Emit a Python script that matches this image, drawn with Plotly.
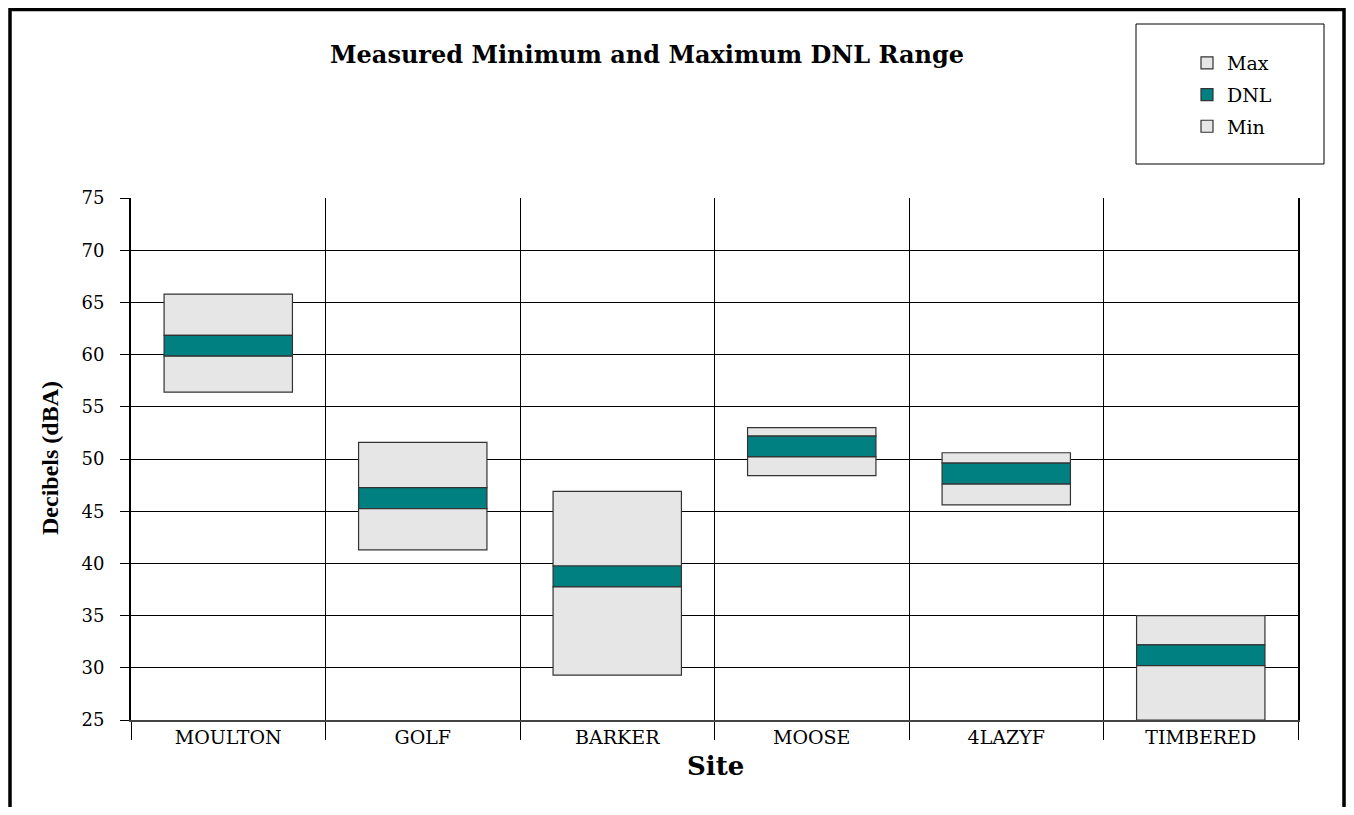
import plotly.graph_objects as go

# ---- data ----
sites = ["MOULTON", "GOLF", "BARKER", "MOOSE", "4LAZYF", "TIMBERED"]
min_db = [56.4, 41.3, 29.3, 48.4, 45.6, 25.0]
dnl_db = [60.85, 46.25, 38.75, 51.2, 48.6, 31.2]
max_db = [65.8, 51.6, 46.9, 53.0, 50.6, 35.0]
dnl_half_band = 1.0  # DNL drawn as a +/- 1 dB band

y_ticks = [25, 30, 35, 40, 45, 50, 55, 60, 65, 70, 75]

# ---- derived segments ----
dnl_lo = [d - dnl_half_band for d in dnl_db]
dnl_hi = [d + dnl_half_band for d in dnl_db]
min_len = [lo - m for lo, m in zip(dnl_lo, min_db)]
dnl_len = [hi - lo for hi, lo in zip(dnl_hi, dnl_lo)]
max_len = [mx - hi for mx, hi in zip(max_db, dnl_hi)]

GREY = "#e6e6e6"
TEAL = "#008080"
EDGE = "#333333"
BAR_W = 0.66

SERIF = "DejaVu Serif"

fig = go.Figure()
fig.add_trace(go.Bar(x=sites, y=max_len, base=dnl_hi, name="Max", legendgroup="max",
                     width=BAR_W, marker=dict(color=GREY, line=dict(color=EDGE, width=1.2))))
fig.add_trace(go.Bar(x=sites, y=dnl_len, base=dnl_lo, name="DNL", legendgroup="dnl",
                     width=BAR_W, marker=dict(color=TEAL, line=dict(color=EDGE, width=1.2))))
fig.add_trace(go.Bar(x=sites, y=min_len, base=min_db, name="Min", legendgroup="min",
                     width=BAR_W, marker=dict(color=GREY, line=dict(color=EDGE, width=1.2))))

# page offset (body margin) and figure size (fits the window without scrollbars)
OFF = 8
W, H = 1354 - 2 * OFF, 815 - 2 * OFF
# plot area in reference (page) pixels: x 131..1298, y 198..720
L, T = 131 - OFF, 198 - OFF
R = W - (1298 - OFF)
B = H - (720 - OFF)
PW, PH = W - L - R, H - T - B


def px_x(px):
    return (px - OFF - L) / PW


def px_y(py):
    return (H - B - (py - OFF)) / PH


fig.update_layout(
    width=W, height=H,
    margin=dict(l=L, r=R, t=T, b=B),
    paper_bgcolor="white", plot_bgcolor="white",
    barmode="overlay",
    font=dict(family=SERIF, color="black", size=15),
    showlegend=True,
    legend=dict(
        x=px_x(1187), y=px_y(44), xanchor="left", yanchor="top",
        traceorder="grouped", tracegroupgap=4,
        bgcolor="rgba(0,0,0,0)", borderwidth=0,
        font=dict(family=SERIF, size=19, color="black"),
    ),
    xaxis=dict(
        tickson="boundaries", ticks="outside", ticklen=18, tickcolor="black", tickwidth=1,
        showgrid=True, gridcolor="black", gridwidth=1,
        showline=True, linecolor="#444444", linewidth=2,
        tickfont=dict(family=SERIF, size=19, color="black"),
        ticklabelstandoff=-1,
    ),
    yaxis=dict(
        range=[25, 75], tickvals=y_ticks, ticks="outside", ticklen=9, tickcolor="black",
        showgrid=True, gridcolor="black", gridwidth=1,
        showline=True, linecolor="black", linewidth=2, mirror=True,
        tickfont=dict(family=SERIF, size=18, color="black"),
        ticklabelstandoff=12,
        zeroline=False,
    ),
    shapes=[
        # legend frame
        dict(type="rect", xref="paper", yref="paper",
             x0=px_x(1136), x1=px_x(1324), y0=px_y(164), y1=px_y(24),
             line=dict(color="black", width=1), fillcolor="rgba(0,0,0,0)"),
        # outer frame
        dict(type="rect", xref="paper", yref="paper",
             x0=px_x(10), x1=px_x(1344), y0=px_y(840), y1=px_y(9.5),
             line=dict(color="black", width=3.5), fillcolor="rgba(0,0,0,0)"),
    ],
    annotations=[
        dict(text="<b>Measured Minimum and Maximum DNL Range</b>", xref="paper", yref="paper",
             x=px_x(647), y=px_y(55), xanchor="center", yanchor="middle", showarrow=False,
             font=dict(family=SERIF, size=24, color="black")),
        dict(text="<b>Decibels (dBA)</b>", xref="paper", yref="paper",
             x=px_x(50), y=px_y(458), xanchor="center", yanchor="middle", showarrow=False,
             textangle=-90, font=dict(family="Liberation Serif", size=24, color="black")),
        dict(text="<b>Site</b>", xref="paper", yref="paper",
             x=px_x(715), y=px_y(766), xanchor="center", yanchor="middle", showarrow=False,
             font=dict(family=SERIF, size=26, color="black")),
    ],
)

fig.write_html("out.html")
